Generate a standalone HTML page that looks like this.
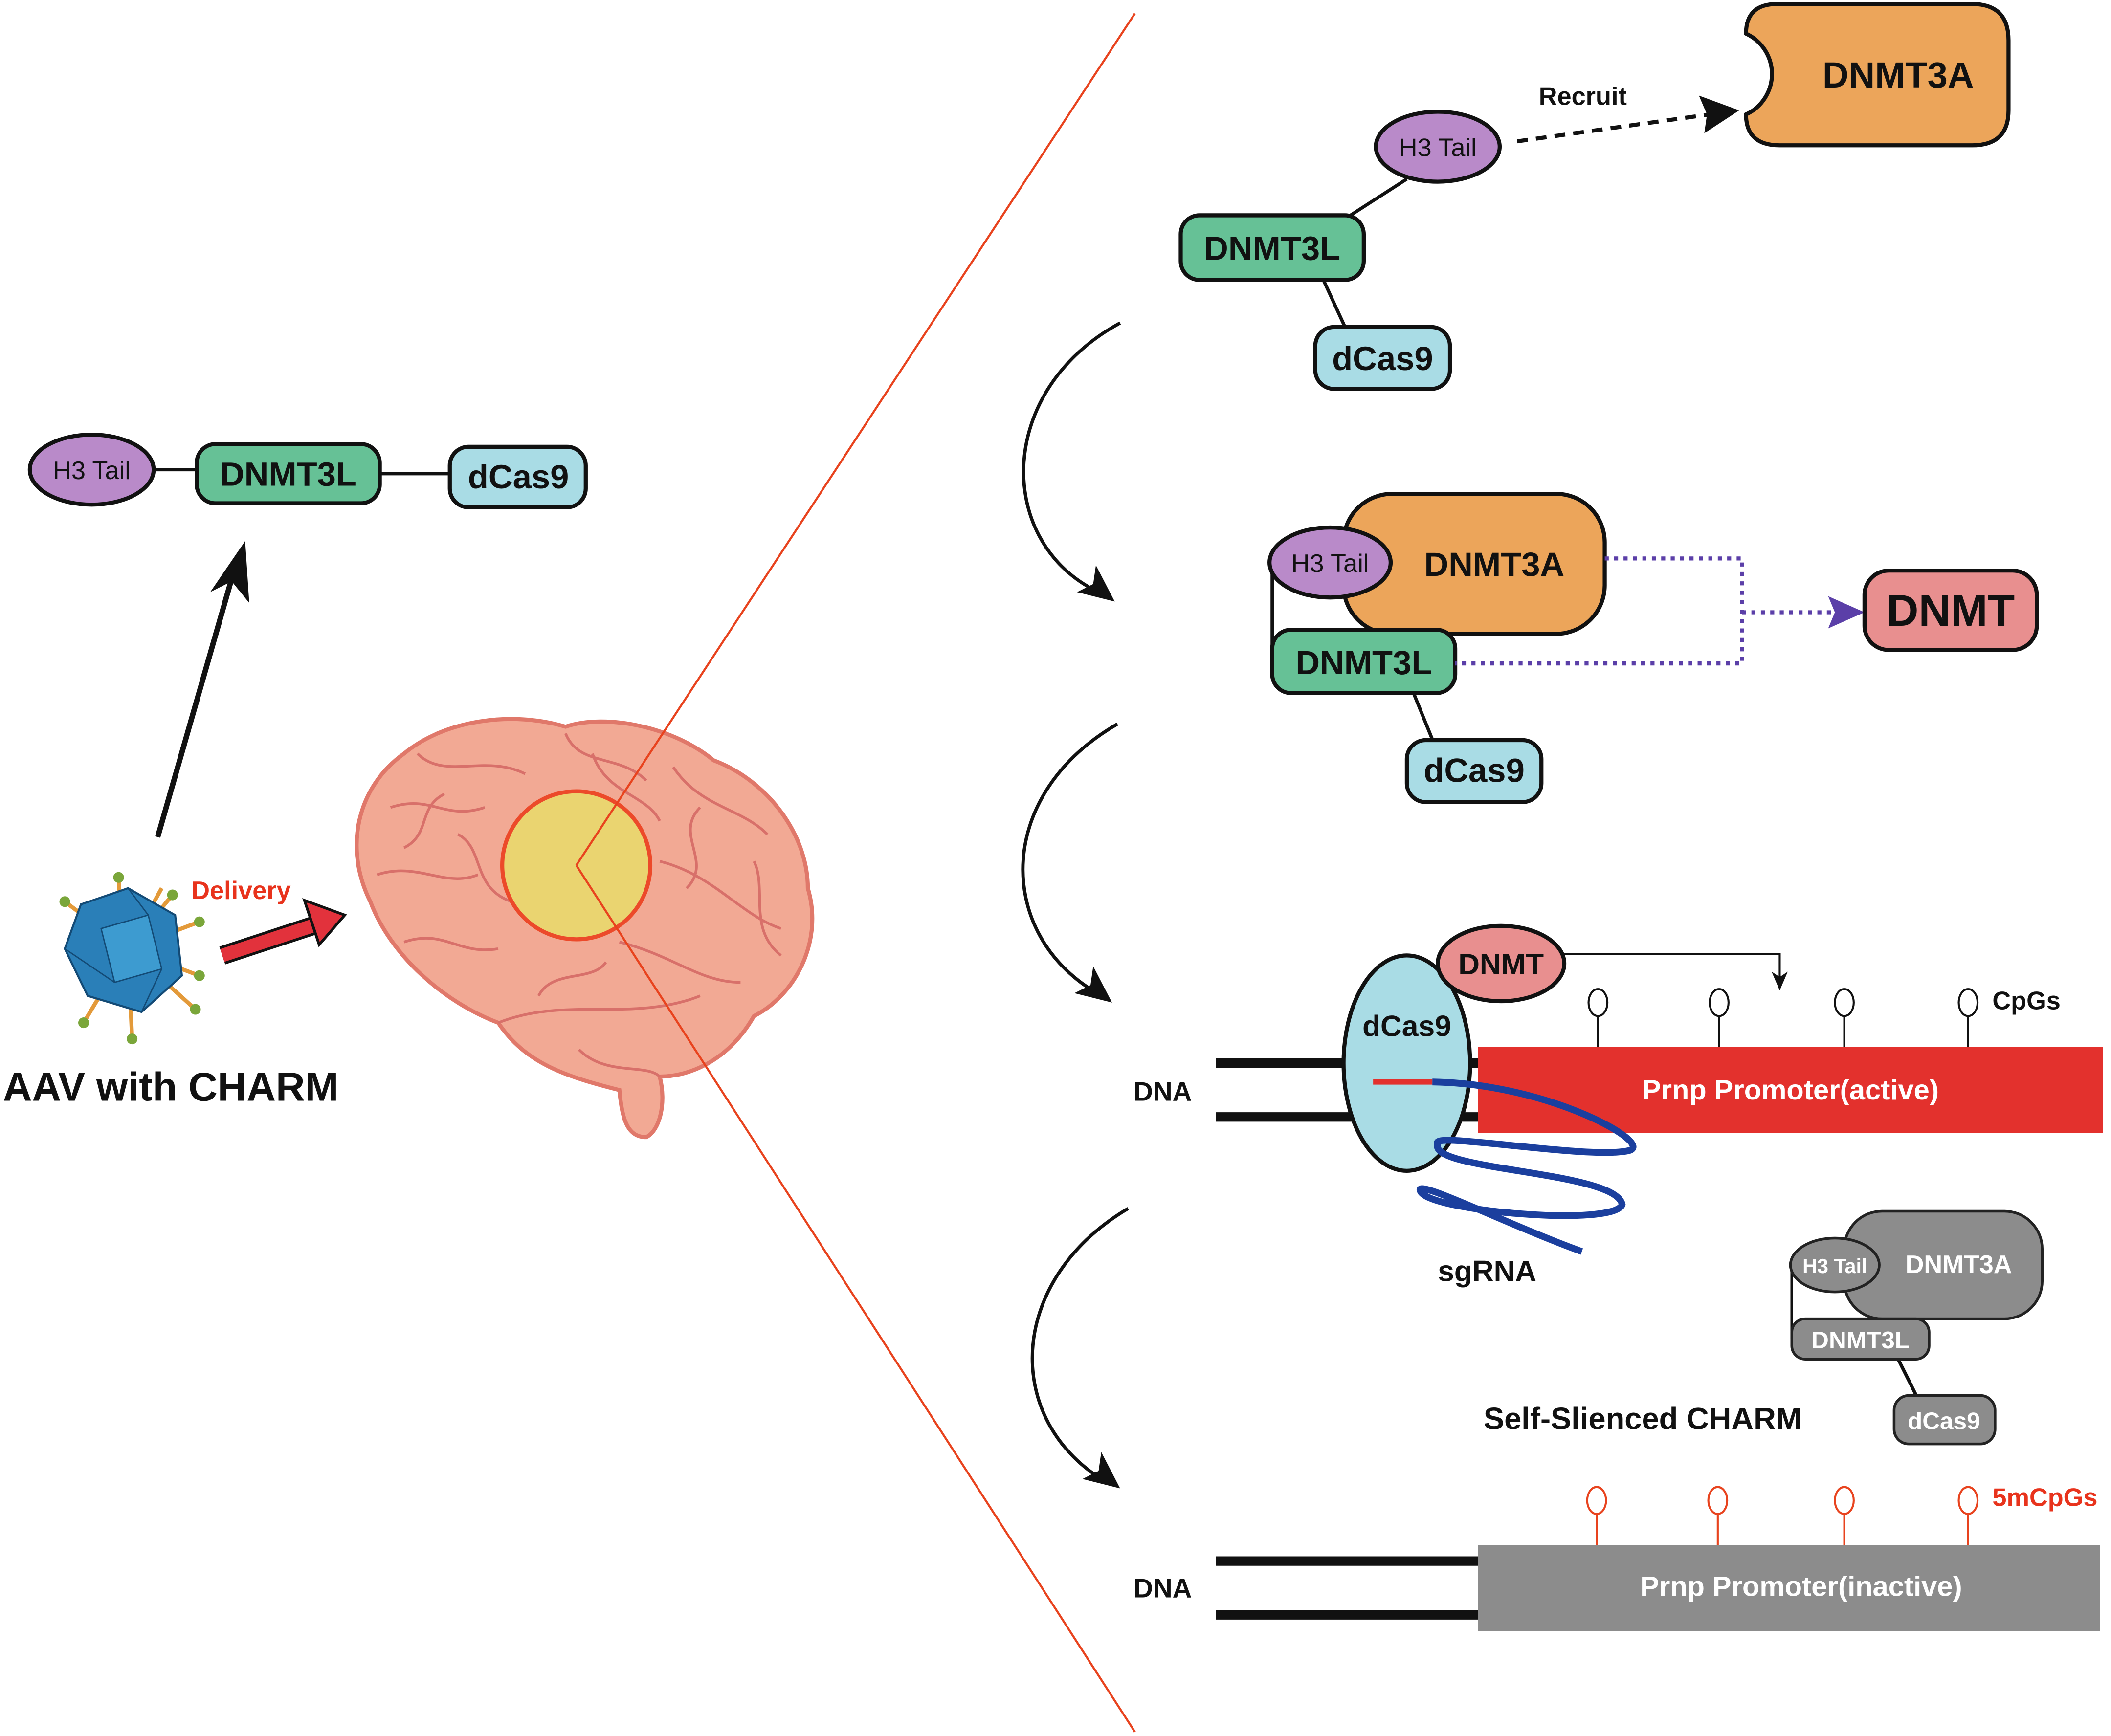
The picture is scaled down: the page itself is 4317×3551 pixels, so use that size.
<!DOCTYPE html>
<html><head><meta charset="utf-8"><style>html,body{margin:0;padding:0;background:#fff}svg{display:block}</style></head>
<body>
<svg width="4317" height="3551" viewBox="0 0 1568 1290" xmlns="http://www.w3.org/2000/svg" font-family="Liberation Sans, sans-serif" font-weight="bold">

<!-- left chain -->
<line x1="110" y1="349" x2="150" y2="349" stroke="#111" stroke-width="2.5"/>
<line x1="280" y1="352" x2="336" y2="352" stroke="#111" stroke-width="2.5"/>
<ellipse cx="68" cy="349" rx="46" ry="26" fill="#b98ac9" stroke="#111" stroke-width="3"/>
<text x="68" y="356" font-size="19" text-anchor="middle" font-weight="normal" fill="#111">H3 Tail</text>
<rect x="146" y="330" width="136" height="44" rx="14" fill="#66c196" stroke="#111" stroke-width="3"/>
<text x="214" y="361" font-size="25" text-anchor="middle" fill="#111">DNMT3L</text>
<rect x="334" y="332" width="101" height="45" rx="14" fill="#a9dce5" stroke="#111" stroke-width="3"/>
<text x="385" y="363" font-size="25" text-anchor="middle" fill="#111">dCas9</text>
<line x1="117" y1="622" x2="172" y2="430" stroke="#111" stroke-width="4"/>
<path d="M182,402 L185,448 L172,432 L156,440z" fill="#111"/>

<!-- virus -->
<g stroke="#e39a3a" stroke-width="3">
<line x1="90" y1="700" x2="88" y2="652"/><line x1="95" y1="705" x2="128" y2="665"/><line x1="95" y1="705" x2="148" y2="685"/>
<line x1="95" y1="705" x2="148" y2="725"/><line x1="95" y1="705" x2="145" y2="750"/><line x1="95" y1="705" x2="98" y2="772"/>
<line x1="95" y1="705" x2="62" y2="760"/><line x1="95" y1="705" x2="48" y2="670"/><line x1="95" y1="705" x2="120" y2="660"/>
</g>
<g fill="#7aa63a"><circle cx="88" cy="652" r="4"/><circle cx="128" cy="665" r="4"/><circle cx="148" cy="685" r="4"/><circle cx="148" cy="725" r="4"/><circle cx="145" cy="750" r="4"/><circle cx="98" cy="772" r="4"/><circle cx="62" cy="760" r="4"/><circle cx="48" cy="670" r="4"/></g>
<polygon points="60,672 95,660 130,680 135,725 105,752 65,740 48,705" fill="#2a7fb8" stroke="#134a75" stroke-width="1.5"/>
<polygon points="75,690 110,680 120,720 85,730" fill="#3d9bd0" stroke="#134a75" stroke-width="1"/>
<line x1="95" y1="660" x2="110" y2="680" stroke="#134a75"/><line x1="48" y1="705" x2="85" y2="730" stroke="#134a75"/><line x1="105" y1="752" x2="120" y2="720" stroke="#134a75"/>
<text x="142" y="668" font-size="19" fill="#e8331c">Delivery</text>
<line x1="165" y1="710" x2="232" y2="688" stroke="#111" stroke-width="14"/>
<line x1="165" y1="710" x2="232" y2="688" stroke="#e2323c" stroke-width="10"/>
<path d="M256,680 L226,669 L237,702z" fill="#e2323c" stroke="#111" stroke-width="2"/>
<text x="2" y="818" font-size="30" fill="#111">AAV with CHARM</text>

<!-- brain -->
<path d="M300,560 C330,535 380,528 420,540 C450,530 500,540 530,565 C570,580 600,620 600,660 C612,700 590,740 560,755 C540,790 510,800 490,800 C495,820 490,840 480,845 C465,845 462,830 460,810 C420,800 390,790 370,760 C330,745 290,710 275,670 C255,630 265,585 300,560z" fill="#f2a994" stroke="#e0786a" stroke-width="3"/>
<g fill="none" stroke="#d8706a" stroke-width="2">
<path d="M290,600 C320,590 330,610 360,600"/><path d="M310,560 C330,580 360,560 390,575"/><path d="M420,545 C430,570 460,560 480,580"/>
<path d="M500,570 C520,600 550,600 570,620"/><path d="M280,650 C310,640 330,660 355,650"/><path d="M300,700 C330,690 340,710 370,705"/>
<path d="M370,760 C420,740 470,760 520,740"/><path d="M490,640 C530,650 550,680 580,690"/><path d="M460,700 C500,710 520,730 550,730"/>
<path d="M430,780 C450,800 480,790 490,800"/><path d="M340,620 C360,630 350,660 380,670"/>
<path d="M300,630 C320,620 310,600 330,590"/><path d="M520,600 C500,620 530,640 510,660"/><path d="M560,640 C570,660 555,690 580,710"/>
<path d="M400,740 C410,720 440,730 450,715"/><path d="M440,560 C450,590 480,590 490,610"/>
</g>
<circle cx="428" cy="643" r="55" fill="#e9dc6a" fill-opacity="0.85" stroke="#ec4a2a" stroke-width="3"/>
<!-- red lines -->
<line x1="428" y1="643" x2="843" y2="10" stroke="#e8431e" stroke-width="1.6"/>
<line x1="428" y1="643" x2="843" y2="1287" stroke="#e8431e" stroke-width="1.6"/>

<!-- curved arrows -->
<g fill="none" stroke="#111" stroke-width="2.5">
<path d="M832,240 C740,290 740,400 812,438"/>
<path d="M830,538 C740,590 740,690 810,735"/>
<path d="M838,898 C750,950 745,1050 815,1097"/>
</g>
<path d="M828,447 L800,440 L812,434 L814,420z" fill="#111"/>
<path d="M826,745 L798,738 L810,732 L812,718z" fill="#111"/>
<path d="M832,1106 L804,1099 L816,1093 L818,1079z" fill="#111"/>

<!-- top complex -->
<path d="M1320,3 H1465 Q1492,3 1492,30 V82 Q1492,108 1465,108 H1322 Q1297,108 1297,85 A33,33 0 0 0 1297,25 Q1297,3 1320,3z" fill="#eca55a" stroke="#111" stroke-width="3"/>
<text x="1410" y="65" font-size="27" text-anchor="middle" fill="#111">DNMT3A</text>
<line x1="1045" y1="133" x2="1000" y2="162" stroke="#111" stroke-width="2.5"/>
<line x1="983" y1="208" x2="1000" y2="245" stroke="#111" stroke-width="2.5"/>
<ellipse cx="1068" cy="109" rx="46" ry="26" fill="#b98ac9" stroke="#111" stroke-width="3"/>
<text x="1068" y="116" font-size="19" text-anchor="middle" font-weight="normal" fill="#111">H3 Tail</text>
<rect x="877" y="160" width="136" height="48" rx="14" fill="#66c196" stroke="#111" stroke-width="3"/>
<text x="945" y="193" font-size="25" text-anchor="middle" fill="#111">DNMT3L</text>
<rect x="977" y="243" width="100" height="46" rx="14" fill="#a9dce5" stroke="#111" stroke-width="3"/>
<text x="1027" y="275" font-size="25" text-anchor="middle" fill="#111">dCas9</text>
<text x="1143" y="78" font-size="19" fill="#111">Recruit</text>
<line x1="1127" y1="105" x2="1270" y2="85" stroke="#111" stroke-width="3" stroke-dasharray="8,6"/>
<path d="M1292,82 L1262,71 L1268,85 L1266,99z" fill="#111"/>

<!-- second complex -->
<rect x="998" y="367" width="194" height="104" rx="36" fill="#eca55a" stroke="#111" stroke-width="3"/>
<text x="1110" y="428" font-size="25" text-anchor="middle" fill="#111">DNMT3A</text>
<path d="M945,418 V490" stroke="#111" stroke-width="2.5"/>
<line x1="1050" y1="515" x2="1065" y2="552" stroke="#111" stroke-width="2.5"/>
<ellipse cx="988" cy="418" rx="45" ry="26" fill="#b98ac9" stroke="#111" stroke-width="3"/>
<text x="988" y="425" font-size="19" text-anchor="middle" font-weight="normal" fill="#111">H3 Tail</text>
<rect x="945" y="468" width="136" height="47" rx="14" fill="#66c196" stroke="#111" stroke-width="3"/>
<text x="1013" y="501" font-size="25" text-anchor="middle" fill="#111">DNMT3L</text>
<rect x="1045" y="550" width="100" height="46" rx="14" fill="#a9dce5" stroke="#111" stroke-width="3"/>
<text x="1095" y="581" font-size="25" text-anchor="middle" fill="#111">dCas9</text>
<path d="M1192,415 H1294 V493 H1081 M1294,455 H1365" fill="none" stroke="#5b3fa8" stroke-width="3" stroke-dasharray="3,4"/>
<path d="M1385,455 L1358,443 L1363,455 L1358,467z" fill="#5b3fa8"/>
<rect x="1385" y="424" width="128" height="59" rx="18" fill="#e88f8f" stroke="#111" stroke-width="3"/>
<text x="1449" y="465" font-size="33" text-anchor="middle" fill="#111">DNMT</text>

<!-- third: DNA active -->
<line x1="903" y1="790" x2="1100" y2="790" stroke="#111" stroke-width="7"/>
<line x1="903" y1="830" x2="1100" y2="830" stroke="#111" stroke-width="7"/>
<text x="842" y="818" font-size="20" fill="#111">DNA</text>
<rect x="1098" y="778" width="464" height="64" fill="#e3312d"/>
<text x="1330" y="817" font-size="21" text-anchor="middle" fill="#fff">Prnp Promoter(active)</text>
<g stroke="#111" stroke-width="1.5" fill="#fff">
<line x1="1187" y1="755" x2="1187" y2="778"/><ellipse cx="1187" cy="745" rx="7" ry="10"/>
<line x1="1277" y1="755" x2="1277" y2="778"/><ellipse cx="1277" cy="745" rx="7" ry="10"/>
<line x1="1370" y1="755" x2="1370" y2="778"/><ellipse cx="1370" cy="745" rx="7" ry="10"/>
<line x1="1462" y1="755" x2="1462" y2="778"/><ellipse cx="1462" cy="745" rx="7" ry="10"/>
</g>
<text x="1480" y="750" font-size="19" fill="#111">CpGs</text>
<ellipse cx="1045" cy="790" rx="47" ry="80" fill="#a9dce5" stroke="#111" stroke-width="3"/>
<text x="1045" y="770" font-size="22" text-anchor="middle" fill="#111">dCas9</text>
<line x1="1020" y1="804" x2="1064" y2="804" stroke="#e3312d" stroke-width="4"/>
<path d="M1064,804 C1150,805 1230,850 1210,855 C1180,862 1060,840 1068,850 C1060,870 1200,870 1205,895 C1200,912 1060,900 1055,885 C1050,875 1120,910 1175,930" fill="none" stroke="#1b3f9e" stroke-width="5"/>
<text x="1068" y="952" font-size="22" fill="#111">sgRNA</text>
<path d="M1162,709 H1322 V728" fill="none" stroke="#111" stroke-width="1.5"/>
<path d="M1322,736 L1316,722 L1322,726 L1328,722z" fill="#111"/>
<ellipse cx="1115" cy="716" rx="47" ry="28" fill="#e88f8f" stroke="#111" stroke-width="3"/>
<text x="1115" y="724" font-size="22" text-anchor="middle" fill="#111">DNMT</text>

<!-- gray complex -->
<rect x="1370" y="900" width="147" height="80" rx="28" fill="#8c8c8c" stroke="#222" stroke-width="2"/>
<text x="1455" y="946" font-size="19" text-anchor="middle" fill="#fff">DNMT3A</text>
<path d="M1331,940 V995" stroke="#111" stroke-width="2"/>
<line x1="1410" y1="1010" x2="1425" y2="1040" stroke="#111" stroke-width="2.5"/>
<ellipse cx="1363" cy="940" rx="33" ry="20" fill="#8c8c8c" stroke="#222" stroke-width="2"/>
<text x="1363" y="946" font-size="15" text-anchor="middle" fill="#fff">H3 Tail</text>
<rect x="1331" y="980" width="102" height="30" rx="10" fill="#8c8c8c" stroke="#222" stroke-width="2"/>
<text x="1382" y="1002" font-size="18" text-anchor="middle" fill="#fff">DNMT3L</text>
<rect x="1407" y="1037" width="75" height="36" rx="11" fill="#8c8c8c" stroke="#222" stroke-width="2"/>
<text x="1444" y="1062" font-size="18" text-anchor="middle" fill="#fff">dCas9</text>
<text x="1102" y="1062" font-size="23" fill="#111">Self-Slienced CHARM</text>

<!-- bottom DNA -->
<line x1="903" y1="1160" x2="1100" y2="1160" stroke="#111" stroke-width="7"/>
<line x1="903" y1="1200" x2="1100" y2="1200" stroke="#111" stroke-width="7"/>
<text x="842" y="1187" font-size="20" fill="#111">DNA</text>
<rect x="1098" y="1148" width="462" height="64" fill="#8c8c8c"/>
<text x="1338" y="1186" font-size="21" text-anchor="middle" fill="#fff">Prnp Promoter(inactive)</text>
<g stroke="#e8431e" stroke-width="1.5" fill="#fff">
<line x1="1186" y1="1125" x2="1186" y2="1148"/><ellipse cx="1186" cy="1115" rx="7" ry="10"/>
<line x1="1276" y1="1125" x2="1276" y2="1148"/><ellipse cx="1276" cy="1115" rx="7" ry="10"/>
<line x1="1370" y1="1125" x2="1370" y2="1148"/><ellipse cx="1370" cy="1115" rx="7" ry="10"/>
<line x1="1462" y1="1125" x2="1462" y2="1148"/><ellipse cx="1462" cy="1115" rx="7" ry="10"/>
</g>
<text x="1480" y="1119" font-size="19" fill="#e8331c">5mCpGs</text>
</svg>
</body></html>
